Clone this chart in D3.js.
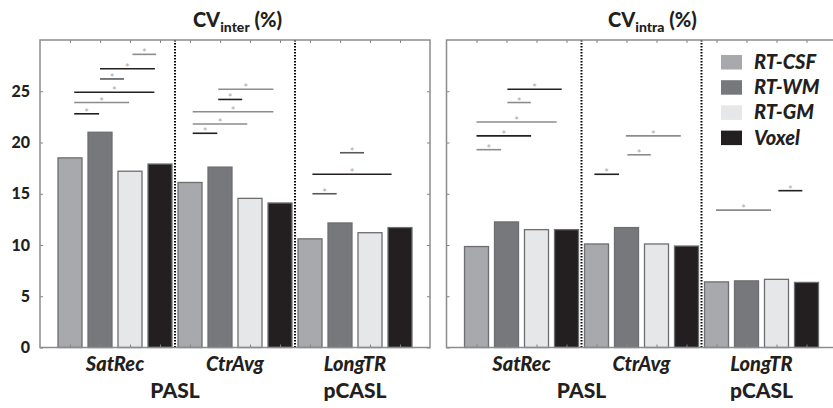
<!DOCTYPE html>
<html>
<head>
<meta charset="utf-8">
<script src="https://cdn.jsdelivr.net/npm/d3@7"></script>
<style>
  body { margin: 0; background: #fff; }
  svg { display: block; font-family: Lato, "Open Sans", sans-serif; }
</style>
</head>
<body>
<div id="content"></div>
<script>
// categories
const methods = ['RT-CSF', 'RT-WM', 'RT-GM', 'Voxel'];
const groups = ['SatRec', 'CtrAvg', 'LongTR'];
const protocols = ['PASL', 'pCASL'];
const protocolCenter = [4.5, 10.5];   // in bar-index units
const yTicks = [0, 5, 10, 15, 20, 25];

// CV values, 4 methods x 3 groups, in bar order
const cvInter = [18.5, 21.0, 17.2, 17.9, 16.1, 17.6, 14.55, 14.1, 10.6, 12.15, 11.2, 11.7];
const cvIntra = [9.85, 12.25, 11.5, 11.5, 10.1, 11.7, 10.1, 9.9, 6.4, 6.5, 6.65, 6.35];

// significance bars: [from, to, level, shade]
const interSig = [
  [1.14, 1.97, 22.8, 'dark'], [1.14, 2.97, 23.9, 'gray'], [1.14, 3.81, 24.9, 'dark'],
  [2.0, 2.8, 26.2, 'mid'], [2.0, 3.83, 27.2, 'dark'], [3.08, 3.87, 28.6, 'gray'],
  [5.09, 5.91, 20.9, 'dark'], [5.09, 6.91, 21.8, 'gray'], [5.09, 7.78, 23.0, 'gray'],
  [5.94, 6.74, 24.2, 'dark'], [5.94, 7.78, 25.2, 'gray'],
  [9.08, 9.89, 15.0, 'mid'], [9.08, 11.72, 16.9, 'dark'], [10.0, 10.8, 19.0, 'mid']
];
const intraSig = [
  [1.0, 1.82, 19.3, 'gray'], [1.0, 2.82, 20.65, 'dark'], [1.0, 3.67, 22.0, 'gray'],
  [2.03, 2.81, 23.9, 'gray'], [2.03, 3.84, 25.2, 'dark'],
  [4.93, 5.75, 16.9, 'dark'], [6.03, 6.81, 18.8, 'gray'], [5.98, 7.81, 20.65, 'gray'],
  [8.98, 10.82, 13.4, 'gray'], [11.06, 11.86, 15.3, 'dark']
];

const fills = ['#a7a9ac', '#77787b', '#e6e7e8', '#231f20'];
const shades = {dark: '#231f20', mid: '#58595b', gray: '#8a8c8e'};

var width = 833, height = 408;
var svg = d3.select('#content')
  .append('svg')
  .attr('width', width)
  .attr('height', height);

function panel(opts) {
  var x = d3.scaleLinear().domain([0, 13]).range([opts.left, opts.left + 390]);
  var y = d3.scaleLinear().domain([0, 30]).range([347.5, 40]);
  var bw = x(0.8) - x(0);
  var g = svg.append('g');

  // bars
  g.selectAll('rect.bar')
    .data(opts.values)
    .enter()
    .append('rect')
    .attr('class', 'bar')
    .attr('x', (d, i) => x(i + 1) - bw / 2)
    .attr('y', d => y(d))
    .attr('width', bw)
    .attr('height', d => y(0) - y(d))
    .attr('fill', (d, i) => fills[i % 4])
    .attr('stroke', '#6d6e71')
    .attr('stroke-width', 1.3);

  // dotted separators
  g.selectAll('line.sep')
    .data([4.5, 8.5])
    .enter()
    .append('line')
    .attr('x1', d => x(d)).attr('x2', d => x(d))
    .attr('y1', y(30)).attr('y2', y(0))
    .attr('stroke', '#000')
    .attr('stroke-width', 2)
    .attr('stroke-dasharray', '1.5,1.5');

  // axes (inner ticks)
  var barTicks = d3.range(1, 13);
  var axes = [
    [d3.axisBottom(x).tickValues(barTicks).tickFormat(''), `translate(0,${y(0)})`],
    [d3.axisTop(x).tickValues(barTicks).tickFormat(''), `translate(0,${y(30)})`],
    [d3.axisRight(y).tickValues(yTicks).tickFormat(''), `translate(${x(13)},0)`],
    [d3.axisLeft(y).tickValues(yTicks).tickFormat(opts.labels ? d3.format('d') : ''), `translate(${x(0)},0)`]
  ];
  axes.forEach(a => {
    var ax = g.append('g')
      .attr('transform', a[1])
      .call(a[0].tickSizeInner(-3).tickSizeOuter(0).tickPadding(10));
    ax.select('.domain').remove();
    ax.selectAll('line').attr('stroke', '#808285').attr('stroke-width', 1);
    ax.selectAll('text')
      .attr('fill', '#231f20')
      .style('font-size', '16px')
      .style('font-weight', 900)
      .style('font-family', 'Lato, sans-serif');
  });

  // frame
  g.append('rect')
    .attr('x', x(0)).attr('y', y(30))
    .attr('width', x(13) - x(0)).attr('height', y(0) - y(30))
    .attr('fill', 'none')
    .attr('stroke', '#8a8c8e')
    .attr('stroke-width', 1.5);

  // significance bars
  g.selectAll('line.sig')
    .data(opts.sig)
    .enter()
    .append('line')
    .attr('x1', d => x(d[0])).attr('x2', d => x(d[1]))
    .attr('y1', d => y(d[2])).attr('y2', d => y(d[2]))
    .attr('stroke', d => shades[d[3]])
    .attr('stroke-width', 1.6);
  g.selectAll('text.star')
    .data(opts.sig)
    .enter()
    .append('text')
    .attr('x', d => x((d[0] + d[1]) / 2))
    .attr('y', d => y(d[2]) + 3)
    .attr('text-anchor', 'middle')
    .attr('fill', '#a7a9ac')
    .style('font-size', '11px')
    .text('*');

  // group labels
  g.selectAll('text.grp')
    .data(groups)
    .enter()
    .append('text')
    .attr('x', (d, i) => x(i * 4 + 2.5))
    .attr('y', 370.5)
    .attr('text-anchor', 'middle')
    .attr('fill', '#231f20')
    .style('font-size', '20px')
    .style('font-weight', 900)
    .style('font-style', 'italic')
    .text(d => d);
  g.selectAll('text.prot')
    .data(protocols)
    .enter()
    .append('text')
    .attr('x', (d, i) => x(protocolCenter[i]))
    .attr('y', 398)
    .attr('text-anchor', 'middle')
    .attr('fill', '#231f20')
    .style('font-size', '21px')
    .style('font-weight', 900)
    .text(d => d);

  // title
  var t = svg.append('text')
    .attr('x', opts.titleX)
    .attr('y', 27)
    .attr('text-anchor', 'middle')
    .attr('fill', '#231f20')
    .style('font-size', '20px')
    .style('font-weight', 900);
  t.append('tspan').text('CV');
  t.append('tspan').attr('dy', 5).style('font-size', '14px').text(opts.sub);
  t.append('tspan').attr('dy', -5).text(' (%)');

  return {x: x, y: y, g: g};
}

panel({left: 40, values: cvInter, sig: interSig, labels: true, sub: 'inter', titleX: 237.5});
panel({left: 446.5, values: cvIntra, sig: intraSig, labels: false, sub: 'intra', titleX: 652.5});

// legend
var legend = svg.append('g').attr('transform', 'translate(721,55)');
var item = legend.selectAll('g')
  .data(methods)
  .enter()
  .append('g')
  .attr('transform', (d, i) => `translate(0,${i * 25.2})`);
item.append('rect')
  .attr('width', 21)
  .attr('height', 14.5)
  .attr('fill', (d, i) => fills[i]);
item.append('text')
  .attr('x', 33)
  .attr('y', 14)
  .attr('fill', '#231f20')
  .style('font-size', '20px')
  .style('font-weight', 900)
  .style('font-style', 'italic')
  .text(d => d);
</script>
</body>
</html>
